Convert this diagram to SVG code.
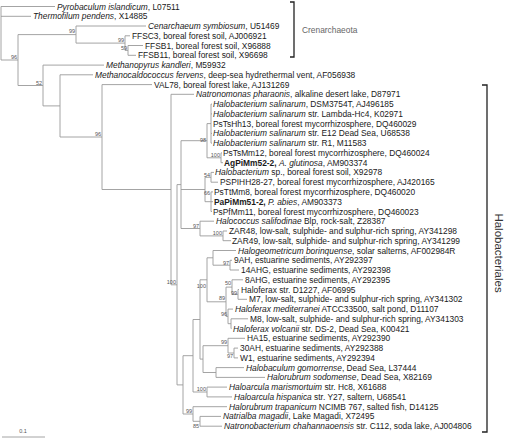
<svg xmlns="http://www.w3.org/2000/svg" width="512" height="439" viewBox="0 0 512 439">
<style>
.t{font-family:"Liberation Sans",Arial,sans-serif;font-size:8.4px;fill:#1a1a1a}
.i{font-style:italic}
.b{font-weight:bold}
.bs{font-family:"Liberation Sans",Arial,sans-serif;font-size:5.5px;fill:#555;text-anchor:end}
.e{stroke:#9a9a9a;fill:none;stroke-width:0.9}
.br{stroke:#222;fill:none;stroke-width:1.3}
</style>
<rect width="512" height="439" fill="#fff"/>
<g id="connectors">
<path class="e" d="M1,6.5V60 M1,6.5H55 M1,16.3H31 M1,60H18
M18,34.6V85.5 M18,34.6H76 M18,85.5H43
M76,26V43.1 M76,26H146 M76,43.1H125
M125,35.8V50.4 M125,35.8H130 M125,50.4H128
M128,45.5V55.3 M128,45.5H143 M128,55.3H136
M43,65.1V105.9 M43,65.1H104 M43,105.9H60
M60,74.8V137 M60,74.8H93 M60,137H102
M102,84.6V189.5 M102,84.6H152 M102,189.5H171
M171,94.3V284.8 M171,94.3H194 M171,284.8H177
M177,184.6V384.9 M177,184.6H181 M177,384.9H183
M181,140.7V228.5 M181,140.7H207 M181,189.5H205 M181,228.5H200
M207,123.6V157.8 M207,123.6H211 M207,157.8H221
M211,104.1V143.1 M211,104.1H212 M211,113.9H212 M211,133.4H212 M211,143.1H212
M221,152.9V162.7 M221,152.9H222 M221,162.7H223
M205,177.3V201.7 M205,177.3H211 M205,201.7H211
M211,172.4V182.2 M211,172.4H214 M211,182.2H218
M211,191.9V211.5 M211,191.9H213 M211,201.7H213 M211,211.5H212
M200,221.2V235.9 M200,221.2H214 M200,235.9H223
M223,231V240.7 M223,231H227 M223,240.7H231
M183,355.7V414 M183,355.7H193 M183,414H193
M193,319.5V392 M193,319.5H200 M193,392H207
M200,279.8V359.1 M200,279.8H207 M200,359.1H203
M207,257.8V301.8 M207,257.8H213 M207,301.8H226
M213,250.5V265.2 M213,250.5H236 M213,265.2H230
M230,260.3V270 M230,260.3H232 M230,270H239
M226,287.1V316.4 M226,287.1H232 M226,316.4H228
M232,279.8V294.4 M232,279.8H243 M232,294.4H238
M238,289.5V299.3 M238,289.5H239 M238,299.3H247
M228,309.1V323.7 M228,309.1H233 M228,323.7H231
M231,318.8V328.6 M231,318.8H248 M231,328.6H231.5
M203,345.7V372.5 M203,345.7H228 M203,372.5H216
M228,338.3V353 M228,338.3H245 M228,353H234
M234,348.1V357.9 M234,348.1H238 M234,357.9H238
M216,367.6V377.4 M216,367.6H244 M216,377.4H265
M207,387.1V396.9 M207,387.1H227 M207,396.9H232
M193,406.7V421.3 M193,406.7H227 M193,421.3H200
M200,416.4V426.2 M200,416.4H221 M200,426.2H222"/>
<path class="e" d="M2,437H45"/>
</g>
<g id="bootstrap">
<text class="bs" x="17" y="58.5">96</text>
<text class="bs" x="75" y="33">99</text>
<text class="bs" x="124" y="42">99</text>
<text class="bs" x="127" y="49.5">59</text>
<text class="bs" x="42" y="84.5">52</text>
<text class="bs" x="101" y="136">96</text>
<text class="bs" x="206" y="142">98</text>
<text class="bs" x="220" y="157">100</text>
<text class="bs" x="210" y="176.5">54</text>
<text class="bs" x="210" y="195">66</text>
<text class="bs" x="199" y="227.5">97</text>
<text class="bs" x="222" y="235">100</text>
<text class="bs" x="176" y="284">100</text>
<text class="bs" x="206" y="288">100</text>
<text class="bs" x="229" y="264.5">97</text>
<text class="bs" x="231" y="285">50</text>
<text class="bs" x="237" y="295">99</text>
<text class="bs" x="225" y="300">89</text>
<text class="bs" x="227" y="316">96</text>
<text class="bs" x="227" y="344">99</text>
<text class="bs" x="233" y="358">97</text>
<text class="bs" x="206" y="391">100</text>
<text class="bs" x="192" y="413">99</text>
<text class="bs" x="199" y="428">85</text>
<text class="bs" x="23" y="433" style="text-anchor:middle">0.1</text>
</g>
<g id="L0"><text class="t" x="57" y="9.5"><tspan class="i">Pyrobaculum islandicum</tspan>, L07511</text></g>
<g id="L1"><text class="t" x="33" y="19.3"><tspan class="i">Thermofilum pendens</tspan>, X14885</text></g>
<g id="L2"><text class="t" x="148" y="29"><tspan class="i">Cenarchaeum symbiosum</tspan>, U51469</text></g>
<g id="L3"><text class="t" x="132" y="38.8">FFSC3, boreal forest soil, AJ006921</text></g>
<g id="L4"><text class="t" x="145" y="48.5">FFSB1, boreal forest soil, X96888</text></g>
<g id="L5"><text class="t" x="138" y="58.3">FFSB11, boreal forest soil, X96698</text></g>
<g id="L6"><text class="t" x="106" y="68.1"><tspan class="i">Methanopyrus kandleri</tspan>, M59932</text></g>
<g id="L7"><text class="t" x="95" y="77.8"><tspan class="i">Methanocaldococcus fervens</tspan>, deep-sea hydrethermal vent, AF056938</text></g>
<g id="L8"><text class="t" x="154" y="87.6">VAL78, boreal forest lake, AJ131269</text></g>
<g id="L9"><text class="t" x="196" y="97.3"><tspan class="i">Natronomonas pharaonis</tspan>, alkaline desert lake, D87971</text></g>
<g id="L10"><text class="t" x="213" y="107.1"><tspan class="i">Halobacterium salinarum</tspan>, DSM3754T, AJ496185</text></g>
<g id="L11"><text class="t" x="213" y="116.9"><tspan class="i">Halobacterium salinarum</tspan> str. Lambda-Hc4, K02971</text></g>
<g id="L12"><text class="t" x="213" y="126.6">PsTsHh13, boreal forest mycorrhizosphere, DQ460029</text></g>
<g id="L13"><text class="t" x="213" y="136.4"><tspan class="i">Halobacterium salinarum</tspan> str. E12 Dead Sea, U68538</text></g>
<g id="L14"><text class="t" x="213" y="146.1"><tspan class="i">Halobacterium salinarum</tspan> str. R1, M11583</text></g>
<g id="L15"><text class="t" x="223" y="155.9">PsTsMm12, boreal forest mycorrhizosphere, DQ460024</text></g>
<g id="L16"><text class="t" x="224" y="165.7"><tspan class="b">AgPiMm52-2,</tspan> <tspan class="i">A. glutinosa</tspan>, AM903374</text></g>
<g id="L17"><text class="t" x="215" y="175.4"><tspan class="i">Halobacterium</tspan> sp., boreal forest soil, X92978</text></g>
<g id="L18"><text class="t" x="220" y="185.2">PSPIHH28-27, boreal forest mycorrhizosphere, AJ420165</text></g>
<g id="L19"><text class="t" x="214" y="194.9">PsTtMm8, boreal forest mycorrhizosphere, DQ460020</text></g>
<g id="L20"><text class="t" x="214" y="204.7"><tspan class="b">PaPiMm51-2,</tspan> <tspan class="i">P. abies</tspan>, AM903373</text></g>
<g id="L21"><text class="t" x="213" y="214.5">PsPfMm11, boreal forest mycorrhizosphere, DQ460023</text></g>
<g id="L22"><text class="t" x="216" y="224.2"><tspan class="i">Halococcus salifodinae</tspan> Blp, rock-salt, Z28387</text></g>
<g id="L23"><text class="t" x="229" y="234">ZAR48, low-salt, sulphide- and sulphur-rich spring, AY341298</text></g>
<g id="L24"><text class="t" x="232" y="243.7">ZAR49, low-salt, sulphide- and sulphur-rich spring, AY341299</text></g>
<g id="L25"><text class="t" x="238" y="253.5"><tspan class="i">Halogeometricum borinquense</tspan>, solar salterns, AF002984R</text></g>
<g id="L26"><text class="t" x="234" y="263.3">9AH, estuarine sediments, AY292397</text></g>
<g id="L27"><text class="t" x="241" y="273">14AHG, estuarine sediments, AY292398</text></g>
<g id="L28"><text class="t" x="245" y="282.8">8AHG, estuarine sediments, AY292395</text></g>
<g id="L29"><text class="t" x="241" y="292.5">Haloferax str. D1227, AF06995</text></g>
<g id="L30"><text class="t" x="249" y="302.3">M7, low-salt, sulphide- and sulphur-rich spring, AY341302</text></g>
<g id="L31"><text class="t" x="235" y="312.1"><tspan class="i">Haloferax mediterranei</tspan> ATCC33500, salt pond, D11107</text></g>
<g id="L32"><text class="t" x="250" y="321.8">M8, low-salt, sulphide- and sulphur-rich spring, AY341303</text></g>
<g id="L33"><text class="t" x="233" y="331.6"><tspan class="i">Haloferax volcanii</tspan> str. DS-2, Dead Sea, K00421</text></g>
<g id="L34"><text class="t" x="247" y="341.3">HA15, estuarine sediments, AY292390</text></g>
<g id="L35"><text class="t" x="240" y="351.1">30AH, estuarine sediments, AY292388</text></g>
<g id="L36"><text class="t" x="240" y="360.9">W1, estuarine sediments, AY292394</text></g>
<g id="L37"><text class="t" x="246" y="370.6"><tspan class="i">Halobaculum gomorrense</tspan>, Dead Sea, L37444</text></g>
<g id="L38"><text class="t" x="267" y="380.4"><tspan class="i">Halorubrum sodomense</tspan>, Dead Sea, X82169</text></g>
<g id="L39"><text class="t" x="229" y="390.1"><tspan class="i">Haloarcula marismortuim</tspan> str. Hc8, X61688</text></g>
<g id="L40"><text class="t" x="234" y="399.9"><tspan class="i">Haloarcula hispanica</tspan> str. Y27, saltern, U68541</text></g>
<g id="L41"><text class="t" x="229" y="409.7"><tspan class="i">Halorubrum trapanicum</tspan> NCIMB 767, salted fish, D14125</text></g>
<g id="L42"><text class="t" x="223" y="419.4"><tspan class="i">Natrialba magadii</tspan>, Lake Magadi, X72495</text></g>
<g id="L43"><text class="t" x="224" y="429.2"><tspan class="i">Natronobacterium chahannaoensis</tspan> str. C112, soda lake, AJ004806</text></g>
<g id="crenarchaeota">
<path class="br" d="M290,2H294V57H290"/>
<text class="t" x="302" y="33" style="fill:#666">Crenarchaeota</text>
</g>
<g id="halobacteriales">
<path class="br" d="M482,85H487V432H482"/>
<text class="t" transform="translate(495,253) rotate(90)" style="font-size:11.5px;text-anchor:middle;fill:#333">Halobacteriales</text>
</g>
</svg>
